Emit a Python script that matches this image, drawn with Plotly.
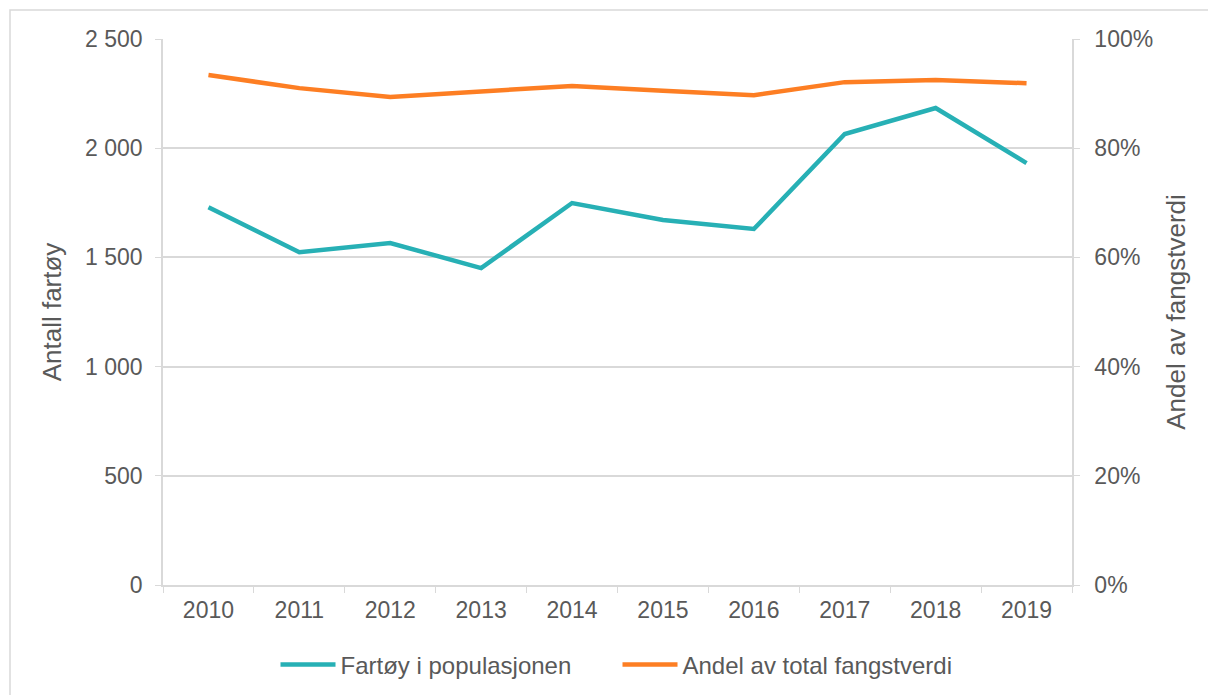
import plotly.graph_objects as go

years = ["2010", "2011", "2012", "2013", "2014", "2015", "2016", "2017", "2018", "2019"]
fartoy = [1730, 1524, 1566, 1451, 1749, 1671, 1630, 2065, 2184, 1932]
andel = [0.934, 0.910, 0.894, 0.903, 0.914, 0.905, 0.897, 0.921, 0.925, 0.919]

name_fartoy = "Fartøy i populasjonen"
name_andel = "Andel av total fangstverdi"

teal = "#27b0b5"
orange = "#fd7e23"
grid = "#d9d9d9"
txt = "#595959"

fig = go.Figure()
fig.add_trace(go.Scatter(x=years, y=fartoy, name=name_fartoy, mode="lines",
                         line=dict(color=teal, width=4.5), yaxis="y"))
fig.add_trace(go.Scatter(x=years, y=andel, name=name_andel, mode="lines",
                         line=dict(color=orange, width=4.5), yaxis="y2"))

# the page body adds an 8px offset, so the figure is sized to fill the rest
OFF = 8
W, H = 1216 - OFF, 695 - OFF
ml, mr, mt, mb = 163 - OFF, 144, 39 - OFF, 110
pw, ph = W - ml - mr, H - mt - mb

fig.update_layout(
    width=W, height=H,
    margin=dict(l=ml, r=mr, t=mt, b=mb, autoexpand=False),
    paper_bgcolor="white", plot_bgcolor="white",
    font=dict(family="Liberation Sans, Arial, sans-serif", size=23, color=txt),
    separators=". ",
    showlegend=True,
    legend=dict(orientation="h", x=0.5, xanchor="center", y=-0.105, yanchor="top",
                font=dict(size=24, color=txt), itemwidth=55, entrywidth=272,
                tracegroupgap=0),
    xaxis=dict(type="category", range=[-0.5, 9.5], showgrid=False, showline=True,
               linecolor=grid, linewidth=1.5, automargin=False,
               ticks="outside", tickson="boundaries", ticklen=6, tickcolor=grid,
               tickfont=dict(size=23, color=txt), zeroline=False, ticklabelstandoff=4),
    yaxis=dict(range=[0, 2500], dtick=500, tickformat=",d", showgrid=True, gridcolor=grid,
               gridwidth=1.5, showline=True, linecolor=grid, linewidth=1.5, automargin=False,
               ticks="outside", ticklen=6, tickcolor=grid, zeroline=False,
               tickfont=dict(size=23, color=txt), ticklabelstandoff=8,
               title=dict(text="Antall fartøy", font=dict(size=26, color=txt), standoff=16)),
    yaxis2=dict(range=[0, 1], dtick=0.2, tickformat=".0%", overlaying="y", side="right",
                showgrid=False, showline=True, linecolor=grid, linewidth=1.5, automargin=False,
                ticks="outside", ticklen=6, tickcolor=grid, zeroline=False,
                tickfont=dict(size=23, color=txt), ticklabelstandoff=10,
                title=dict(text="Andel av fangstverdi", font=dict(size=26, color=txt), standoff=15)),
)

# outer chart border (page px 10,10 -> figure px 2,2)
fig.add_shape(type="rect", xref="paper", yref="paper",
              x0=(10 - OFF - ml) / pw, x1=(W + 20 - ml) / pw,
              y0=(H - mb - (H + 20)) / ph, y1=(H - mb - (10 - OFF)) / ph,
              line=dict(color=grid, width=1.5), fillcolor="rgba(0,0,0,0)", layer="below")

fig.write_html("out.html")
